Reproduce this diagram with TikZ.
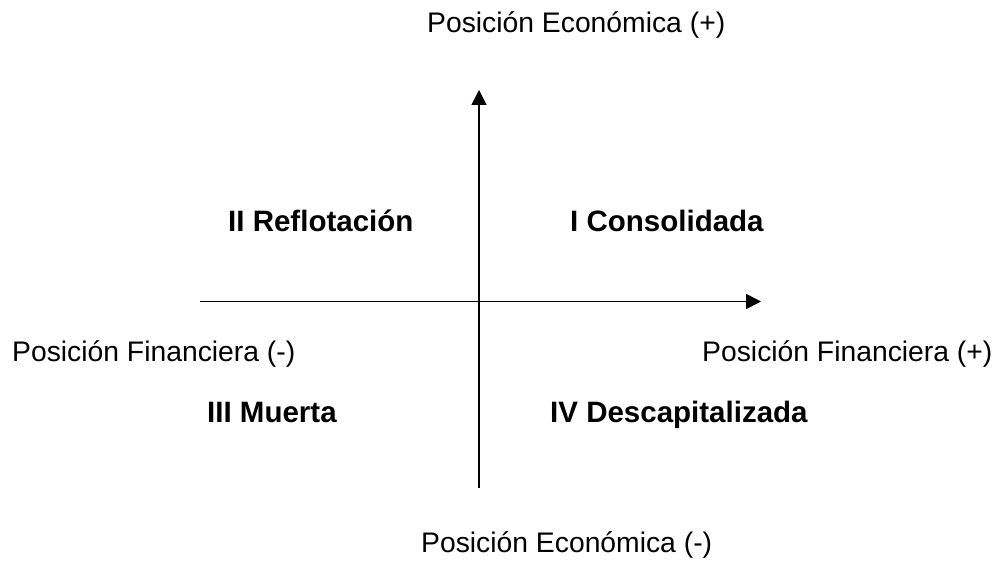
\documentclass[tikz,border=0pt]{standalone}
\usepackage{fontspec}
\setmainfont{Liberation Sans}
\usetikzlibrary{arrows.meta}
\tikzset{
  lbl/.style={anchor=base west, inner sep=0pt, font=\fontsize{28.3}{34}\selectfont},
  qlbl/.style={lbl, font=\fontsize{29.5}{35}\selectfont\bfseries},
  axis/.style={line width=1.6pt, -{Triangle[length=15pt, width=15pt]}}
}
\begin{document}
\begin{tikzpicture}[x=1pt,y=1pt]
\useasboundingbox (0,0) rectangle (999,560);
\fill[white] (0,0) rectangle (999,560);
% axes
\coordinate (vb) at (479,72);
\coordinate (vt) at (479,470);
\coordinate (hl) at (200,258.5);
\coordinate (hr) at (761,258.5);
\draw[axis] (vb) -- (vt);
\draw[axis] (hl) -- (hr);
% labels
\node[lbl] (ept) at (427,527) {Posición Económica (+)};
\node[lbl] (epb) at (421,8) {Posición Económica (-)};
\node[lbl] (fn) at (12,198) {Posición Financiera (-)};
\node[lbl] (fp) at (702,198) {Posición Financiera (+)};
\node[qlbl] (q2) at (228,328) {II Reflotación};
\node[qlbl] (q1) at (570,328) {I Consolidada};
\node[qlbl] (q3) at (207,137) {III Muerta};
\node[qlbl] (q4) at (550,137) {IV Descapitalizada};
\end{tikzpicture}
\end{document}
